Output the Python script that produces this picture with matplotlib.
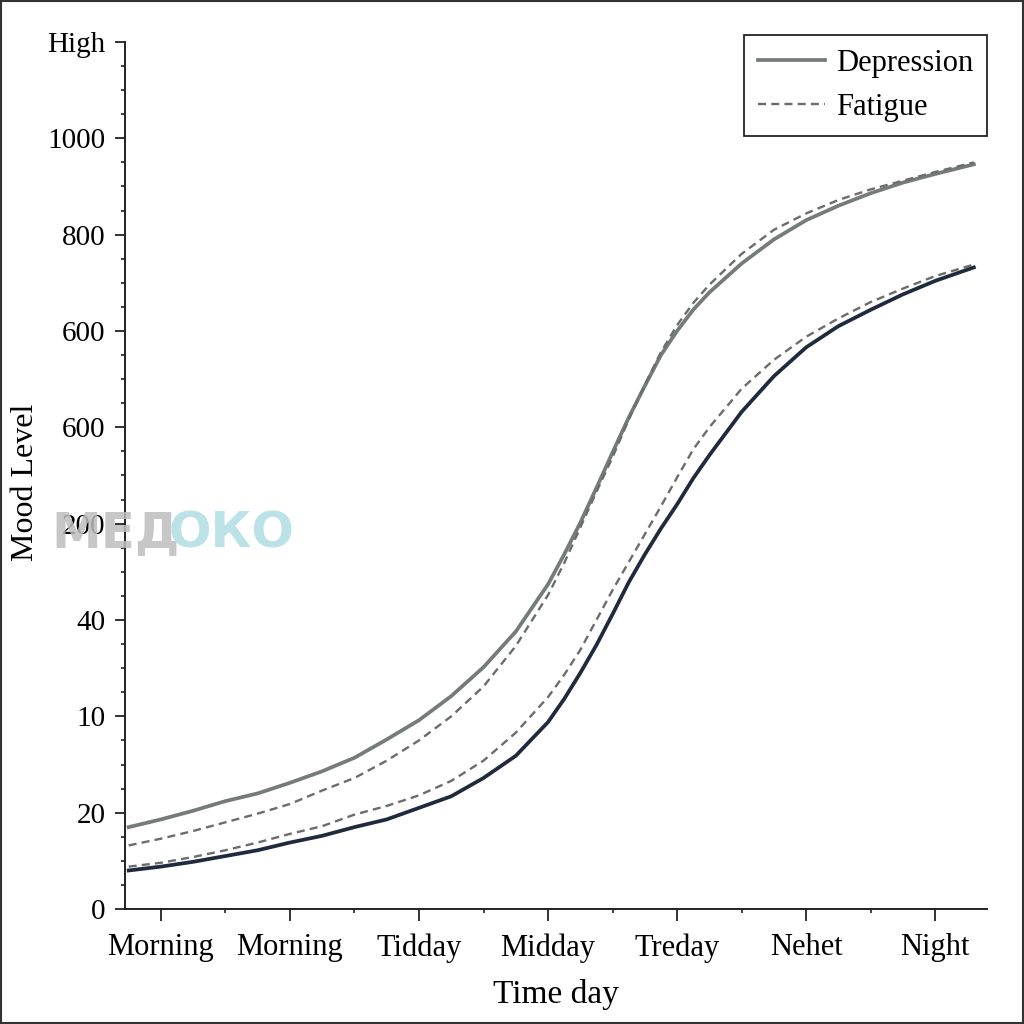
import matplotlib
matplotlib.use("Agg")
import matplotlib.pyplot as plt
from matplotlib.patches import Rectangle
from matplotlib.ticker import MultipleLocator

# x positions on the time axis (0 = first "Morning" tick, 1 = next tick, ...)
x = [-0.25, 0, 0.25, 0.5, 0.75, 1, 1.25, 1.5, 1.75, 2, 2.25, 2.5, 2.75, 3, 3.125, 3.25,
     3.375, 3.5, 3.625, 3.75, 3.875, 4, 4.125, 4.25, 4.5, 4.75, 5, 5.25, 5.5, 5.75, 6, 6.3]

# mood level in tick-index units (0 = "0", 9 = "High")
depression_upper = [0.85, 0.93, 1.02, 1.12, 1.20, 1.31, 1.43, 1.57, 1.76, 1.96, 2.21, 2.51, 2.88, 3.37, 3.68, 4.01,
                    4.37, 4.74, 5.10, 5.43, 5.75, 6.00, 6.22, 6.40, 6.70, 6.95, 7.15, 7.30, 7.43, 7.54, 7.63, 7.73]
fatigue_upper = [0.66, 0.73, 0.81, 0.90, 0.99, 1.09, 1.23, 1.36, 1.54, 1.75, 2.00, 2.31, 2.73, 3.26, 3.59, 3.96,
                 4.33, 4.69, 5.08, 5.44, 5.78, 6.06, 6.29, 6.48, 6.80, 7.05, 7.22, 7.36, 7.47, 7.56, 7.65, 7.75]
fatigue_lower = [0.44, 0.48, 0.54, 0.61, 0.69, 0.78, 0.86, 0.98, 1.07, 1.18, 1.33, 1.54, 1.83, 2.20, 2.43, 2.69,
                 3.00, 3.31, 3.60, 3.89, 4.18, 4.48, 4.77, 5.00, 5.40, 5.70, 5.94, 6.13, 6.30, 6.44, 6.57, 6.69]
depression_lower = [0.40, 0.44, 0.49, 0.55, 0.61, 0.69, 0.76, 0.85, 0.93, 1.05, 1.17, 1.36, 1.59, 1.94, 2.18, 2.45,
                    2.74, 3.06, 3.39, 3.68, 3.95, 4.20, 4.47, 4.71, 5.16, 5.53, 5.83, 6.05, 6.22, 6.38, 6.52, 6.66]

x_labels = ["Morning", "Morning", "Tidday", "Midday", "Treday", "Nehet", "Night"]
y_labels = ["0", "20", "10", "40", "200", "600", "600", "800", "1000", "High"]

plt.rcParams["font.family"] = ["Liberation Serif", "DejaVu Serif"]

fig = plt.figure(figsize=(10.24, 10.24), dpi=100)
ax = fig.add_axes([0.122, 0.1123, 0.842, 0.8467])

gray = "#757c78"
dash_gray = "#6a6d6c"
navy = "#1f2a3d"
dashes = (0, (3.4, 2.2))

ax.plot(x, depression_upper, color=gray, lw=2.7, label="Depression")
ax.plot(x, fatigue_upper, color=dash_gray, lw=1.7, ls=dashes, label="Fatigue")
ax.plot(x, fatigue_lower, color=dash_gray, lw=1.7, ls=dashes)
ax.plot(x, depression_lower, color=navy, lw=2.7)

ax.set_xlim(-0.279, 6.403)
ax.set_ylim(0, 9)
ax.set_xticks(range(len(x_labels)))
ax.set_xticklabels(x_labels)
ax.xaxis.set_minor_locator(MultipleLocator(0.5))
ax.set_yticks(range(len(y_labels)))
ax.set_yticklabels(y_labels)
ax.yaxis.set_minor_locator(MultipleLocator(0.25))

for s in ["top", "right"]:
    ax.spines[s].set_visible(False)
for s in ["left", "bottom"]:
    ax.spines[s].set_linewidth(1.4)
    ax.spines[s].set_color("#222222")

ax.tick_params(axis="x", which="major", length=8.5, width=1.3, labelsize=22, pad=9, color="#222222")
ax.tick_params(axis="x", which="minor", length=3, width=1.2, color="#222222")
ax.tick_params(axis="y", which="major", length=7, width=1.3, labelsize=21, pad=7, color="#222222")
ax.tick_params(axis="y", which="minor", length=3, width=1.2, color="#222222")

ax.set_xlabel("Time day", fontsize=24, labelpad=12)
ax.set_ylabel("Mood Level", fontsize=23)
ax.yaxis.set_label_coords(-0.099, 0.492)

leg = ax.legend(loc="upper right", bbox_to_anchor=(1.0, 1.008), fontsize=22, frameon=True,
                fancybox=False, edgecolor="#222222", handlelength=2.2, handletextpad=0.35,
                borderpad=0.45, labelspacing=0.5, borderaxespad=0.0)
leg.get_frame().set_linewidth(1.3)
leg.get_frame().set_alpha(1)

# watermark
fig.text(0.113, 0.479, "МЕД", fontsize=36, fontweight="bold", family="DejaVu Sans",
         color="#bdbdbd", alpha=0.85, ha="center", va="center", zorder=10)
fig.text(0.226, 0.479, "ОКО", fontsize=36, fontweight="bold", family="DejaVu Sans",
         color="#aedde3", alpha=0.85, ha="center", va="center", zorder=10)

fig.patches.append(Rectangle((0.001, 0.001), 0.998, 0.998, transform=fig.transFigure,
                             fill=False, edgecolor="#333333", lw=1.5))

fig.savefig("out.png", dpi=100, facecolor="white")
